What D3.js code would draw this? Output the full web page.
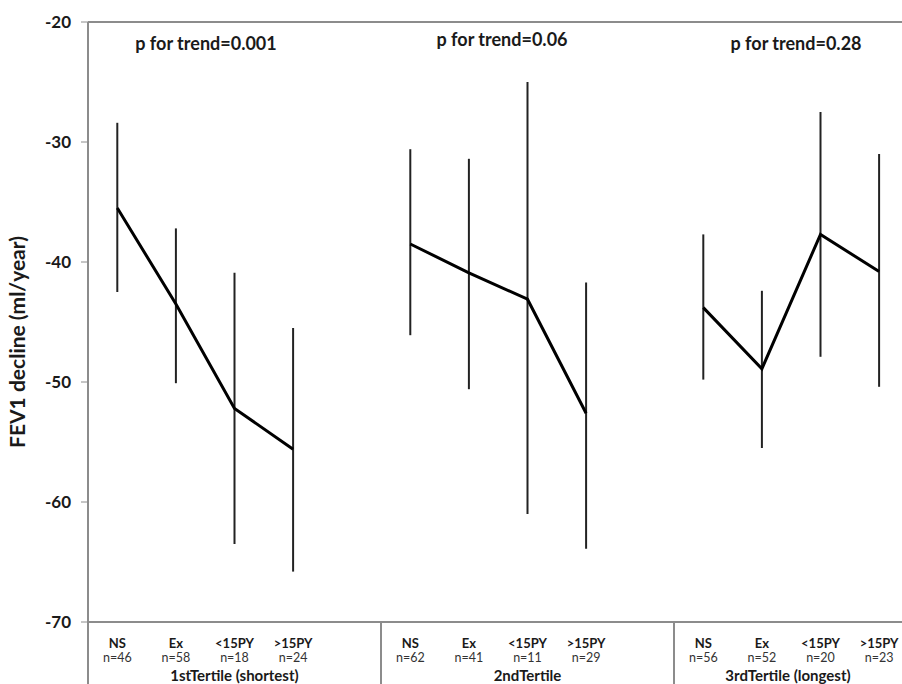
<!DOCTYPE html>
<html lang="en">
<head>
<meta charset="UTF-8">
<title>FEV1 decline by tertile</title>
<script src="https://d3js.org/d3.v7.min.js"></script>
<style>
  body { margin: 0; background: #fff; font-family: Lato, "Open Sans", sans-serif; }
  svg { display: block; }
  .tick-label { font-size: 17px; font-weight: bold; fill: #1a1a1a; }
  .cat { font-size: 13px; font-weight: bold; fill: #1a1a1a; }
  .nlab { font-size: 12.5px; fill: #333; }
  .grp { font-size: 15px; font-weight: bold; fill: #1a1a1a; }
  .ptxt { font-size: 18px; font-weight: bold; fill: #1a1a1a; }
  .ytitle { font-size: 21px; font-weight: bold; fill: #1a1a1a; }
</style>
</head>
<body>
<svg></svg>
<script>
// ---- data ----
const groups = ["1stTertile (shortest)", "2ndTertile", "3rdTertile (longest)"];
const categories = ["NS", "Ex", "<15PY", ">15PY"];
const nLabels = [
  ["n=46", "n=58", "n=18", "n=24"],
  ["n=62", "n=41", "n=11", "n=29"],
  ["n=56", "n=52", "n=20", "n=23"]
];
const means = [
  [-35.5, -43.5, -52.2, -55.6],
  [-38.5, -40.9, -43.1, -52.6],
  [-43.8, -48.9, -37.7, -40.8]
];
const upper = [
  [-28.4, -37.2, -40.9, -45.5],
  [-30.6, -31.4, -25.0, -41.7],
  [-37.7, -42.4, -27.5, -31.0]
];
const lower = [
  [-42.5, -50.1, -63.5, -65.8],
  [-46.1, -50.6, -61.0, -63.9],
  [-49.8, -55.5, -47.9, -50.4]
];
const pTrend = ["p for trend=0.001", "p for trend=0.06", "p for trend=0.28"];
const yTicks = [-20, -30, -40, -50, -60, -70];

// ---- layout ----
const W = 902, H = 684;
const margin = { top: 22, left: 88, bottom: 62 };
const plotBottom = H - margin.bottom;
const slotsPerGroup = 5; // 4 categories + gap
const slot = 58.6;

const svg = d3.select("svg").attr("width", W).attr("height", H);

const y = d3.scaleLinear().domain([-70, -20]).range([plotBottom, margin.top]);
const x = d3.scaleLinear()
  .domain([0, groups.length * slotsPerGroup])
  .range([margin.left, margin.left + groups.length * slotsPerGroup * slot]);

const xPos = (g, i) => x(g * slotsPerGroup + i + 0.5);
const frameColor = "#8c8c8c";

// frame: top line, left axis, bottom axis
svg.append("line")
  .attr("x1", margin.left).attr("x2", W)
  .attr("y1", y(-20)).attr("y2", y(-20))
  .attr("stroke", frameColor).attr("stroke-width", 2);
svg.append("line")
  .attr("x1", margin.left).attr("x2", W)
  .attr("y1", plotBottom).attr("y2", plotBottom)
  .attr("stroke", frameColor).attr("stroke-width", 2);
svg.append("line")
  .attr("x1", margin.left).attr("x2", margin.left)
  .attr("y1", y(-20)).attr("y2", H)
  .attr("stroke", frameColor).attr("stroke-width", 2);

// y axis ticks
const yAxis = svg.append("g");
yAxis.selectAll("line.tk").data(yTicks).enter().append("line")
  .attr("x1", margin.left - 7).attr("x2", margin.left)
  .attr("y1", d => y(d)).attr("y2", d => y(d))
  .attr("stroke", frameColor).attr("stroke-width", 1);
yAxis.selectAll("text").data(yTicks).enter().append("text")
  .attr("class", "tick-label")
  .attr("x", margin.left - 17)
  .attr("y", d => y(d))
  .attr("dy", "0.35em")
  .attr("text-anchor", "end")
  .text(d => d);

svg.append("text")
  .attr("class", "ytitle")
  .attr("transform", `translate(25,${H / 2}) rotate(-90)`)
  .attr("text-anchor", "middle")
  .text("FEV1  decline (ml/year)");

// group dividers below axis
groups.forEach((g, gi) => {
  if (gi === 0) return;
  const xd = x(gi * slotsPerGroup);
  svg.append("line")
    .attr("x1", xd).attr("x2", xd)
    .attr("y1", plotBottom).attr("y2", H)
    .attr("stroke", frameColor).attr("stroke-width", 2);
});

// category labels
groups.forEach((g, gi) => {
  categories.forEach((c, ci) => {
    svg.append("text").attr("class", "cat")
      .attr("x", xPos(gi, ci)).attr("y", plotBottom + 26)
      .attr("text-anchor", "middle").text(c);
    svg.append("text").attr("class", "nlab")
      .attr("x", xPos(gi, ci)).attr("y", plotBottom + 40)
      .attr("text-anchor", "middle").text(nLabels[gi][ci]);
  });
  const g0 = x(gi * slotsPerGroup);
  const g1 = Math.min(W, x((gi + 1) * slotsPerGroup));
  svg.append("text").attr("class", "grp")
    .attr("x", (g0 + g1) / 2).attr("y", plotBottom + 59)
    .attr("text-anchor", "middle").text(g);
});

// error bars and mean lines
const line = d3.line().x(d => d[0]).y(d => d[1]);
groups.forEach((g, gi) => {
  const grp = svg.append("g");
  grp.selectAll("line.err").data(categories).enter().append("line")
    .attr("x1", (d, i) => xPos(gi, i)).attr("x2", (d, i) => xPos(gi, i))
    .attr("y1", (d, i) => y(upper[gi][i]))
    .attr("y2", (d, i) => y(lower[gi][i]))
    .attr("stroke", "#222").attr("stroke-width", 2);
  grp.append("path")
    .datum(means[gi].map((m, i) => [xPos(gi, i), y(m)]))
    .attr("d", line)
    .attr("fill", "none")
    .attr("stroke", "#000")
    .attr("stroke-width", 3)
    .attr("stroke-linejoin", "miter");
});

// p for trend annotations
const pX = [206, 502, 796];
const pY = [50, 46, 50];
pTrend.forEach((t, i) => {
  svg.append("text").attr("class", "ptxt")
    .attr("x", pX[i]).attr("y", pY[i])
    .attr("text-anchor", "middle").text(t);
});
</script>
</body>
</html>
